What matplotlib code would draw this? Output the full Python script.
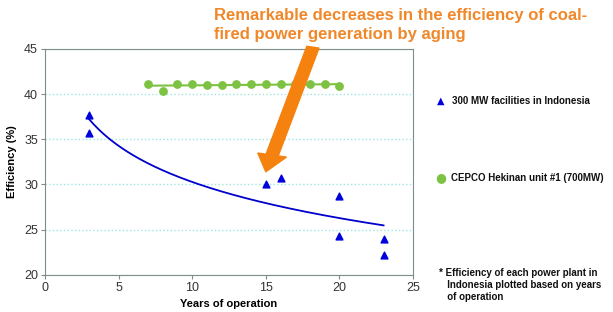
import numpy as np
import matplotlib
matplotlib.use('Agg')
import matplotlib.pyplot as plt
from matplotlib.patches import FancyArrow

# --- Data ---
indo_years = [3, 3, 15, 16, 20, 20, 23, 23]
indo_eff = [37.7, 35.7, 30.1, 30.7, 28.7, 24.3, 24.0, 22.2]

cepco_years = [7, 8, 9, 10, 11, 12, 13, 14, 15, 16, 17, 18, 19, 20]
cepco_eff = [41.1, 40.4, 41.1, 41.1, 41.0, 41.0, 41.1, 41.1, 41.1, 41.1, 41.1, 41.1, 41.1, 40.9]

plt.rcParams['font.family'] = ['Liberation Sans', 'DejaVu Sans']

fig = plt.figure(figsize=(6.13, 3.12), dpi=100)
ax = fig.add_axes([45 / 613, 1 - 274.7 / 312, 368 / 613, 225.7 / 312])

# trend lines
xs = np.linspace(3, 23, 200)
b, a = np.polyfit(np.log(indo_years), indo_eff, 1)
ax.plot(xs, a + b * np.log(xs), color='#0000CC', lw=1.3, zorder=2)

m, c = np.polyfit(cepco_years, cepco_eff, 1)
xg = np.array([7, 20])
ax.plot(xg, m * xg + c, color='#7DC242', lw=1.5, zorder=2)

ax.scatter(cepco_years, cepco_eff, marker='o', s=28, color='#7DC242', zorder=3)
ax.scatter(indo_years, indo_eff, marker='^', s=24, color='#0000DD', zorder=3)

ax.set_xlim(0, 25)
ax.set_ylim(20, 45)
ax.set_xticks([0, 5, 10, 15, 20, 25])
ax.set_yticks([20, 25, 30, 35, 40, 45])
ax.tick_params(labelsize=9, length=3, color='#888888', colors='#333333', pad=2)
for s in ax.spines.values():
    s.set_color('#7F8C8C')
ax.yaxis.grid(True, color='#9EE6E0', linestyle=':', lw=1)
ax.set_axisbelow(True)

ax.set_xlabel('Years of operation', fontsize=8, fontweight='bold', labelpad=4)
ax.set_ylabel('Efficiency (%)', fontsize=8, fontweight='bold', labelpad=5)

# big orange arrow
arrow = FancyArrow(18.2, 45.2, 15.0 - 18.2, 31.4 - 45.2, width=0.85,
                   head_width=2.0, head_length=1.9, length_includes_head=True,
                   color='#F5820F', clip_on=False, zorder=4, transform=ax.transData)
ax.add_patch(arrow)

# annotation text
fig.text(214 / 613, 1 - 25 / 312, 'Remarkable decreases in the efficiency of coal-\nfired power generation by aging',
         color='#F0882A', fontsize=12, fontweight='bold', va='center', ha='left', linespacing=1.3)

# legend entries
fig.text(441 / 613, 1 - 101 / 312, '\u25B2', color='#0000DD', fontsize=7, ha='center', va='center',
         family=['DejaVu Sans'])
fig.text(452 / 613, 1 - 101 / 312, '300 MW facilities in Indonesia', fontsize=7, fontweight='bold',
         va='center', ha='left', color='#111111')
fig.text(441 / 613, 1 - 178 / 312, '\u25CF', color='#7DC242', fontsize=9, ha='center', va='center',
         family=['DejaVu Sans'])
fig.text(451 / 613, 1 - 178 / 312, 'CEPCO Hekinan unit #1 (700MW)', fontsize=7, fontweight='bold',
         va='center', ha='left', color='#111111')

fig.text(439 / 613, 1 - 285 / 312,
         '* Efficiency of each power plant in\n   Indonesia plotted based on years\n   of operation',
         fontsize=7, fontweight='bold', va='center', ha='left', color='#111111', linespacing=1.3)

fig.savefig('out.png', dpi=100)
